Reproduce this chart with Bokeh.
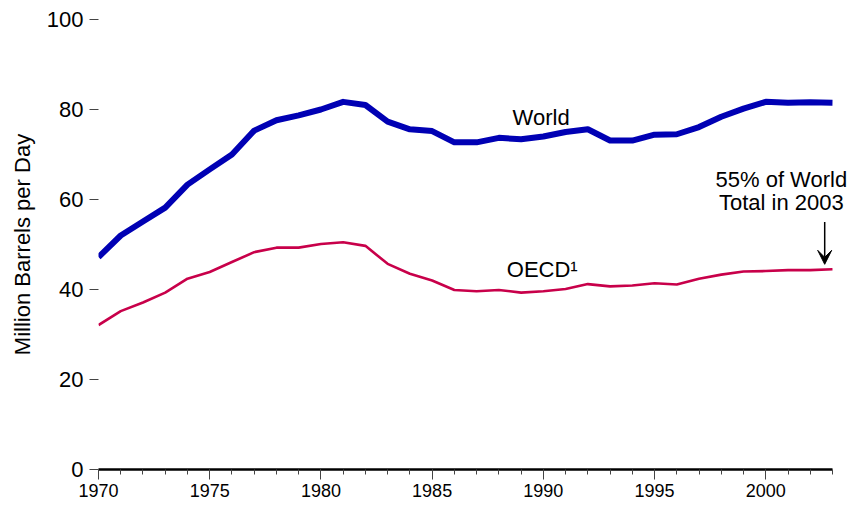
from bokeh.plotting import figure
from bokeh.models import Range1d, FixedTicker, Label, Arrow, VeeHead
from bokeh.embed import file_html
from bokeh.resources import INLINE

years = list(range(1970, 2004))
world = [47.2, 52.0, 55.1, 58.2, 63.3, 66.7, 70.0, 75.3, 77.6, 78.7,
         80.0, 81.7, 81.0, 77.3, 75.6, 75.2, 72.7, 72.7, 73.7, 73.4,
         74.0, 75.0, 75.6, 73.1, 73.1, 74.4, 74.5, 76.1, 78.4, 80.2,
         81.7, 81.5, 81.6, 81.5]
oecd = [32.1, 35.2, 37.1, 39.3, 42.4, 43.9, 46.1, 48.3, 49.3, 49.3,
        50.1, 50.5, 49.7, 45.7, 43.5, 42.0, 39.9, 39.6, 39.9, 39.3,
        39.6, 40.1, 41.2, 40.7, 40.9, 41.4, 41.1, 42.4, 43.3, 44.0,
        44.1, 44.3, 44.3, 44.5]
x_major = [1970, 1975, 1980, 1985, 1990, 1995, 2000]
y_major = [0, 20, 40, 60, 80, 100]
y_label = "Million Barrels per Day"
world_label = "World"
oecd_label = "OECD\u00b9"
note_lines = ["55% of World", "Total in 2003"]

FONT = "Liberation Sans"

p = figure(width=848, height=504, output_backend="svg", toolbar_location=None,
           x_range=Range1d(1970, 2003.72), y_range=Range1d(0, 100),
           min_border_left=98, min_border_right=0, min_border_top=19,
           min_border_bottom=35)
p.outline_line_color = None
p.grid.grid_line_color = None
p.background_fill_color = "white"

p.line(years, world, line_color="#0000B4", line_width=6, line_join="round")
p.line(years, oecd, line_color="#C8004A", line_width=2.6, line_join="round")

xa = p.xaxis[0]
xa.ticker = FixedTicker(ticks=x_major, minor_ticks=years)
xa.bounds = (years[0], years[-1])
xa.axis_line_width = 2.5
xa.axis_line_color = "black"
xa.major_tick_out = 10
xa.major_tick_in = 0
xa.minor_tick_out = 5
xa.minor_tick_in = 0
xa.major_tick_line_color = "#444444"
xa.minor_tick_line_color = "#444444"
xa.major_label_text_font = FONT
xa.major_label_text_font_size = "18px"
xa.major_label_text_color = "black"
xa.major_label_standoff = 4

ya = p.yaxis[0]
ya.ticker = FixedTicker(ticks=y_major, minor_ticks=[])
ya.axis_line_color = None
ya.major_tick_out = 9
ya.major_tick_in = 0
ya.major_tick_line_color = "#444444"
ya.major_label_text_font = FONT
ya.major_label_text_font_size = "22px"
ya.major_label_text_color = "black"
ya.major_label_standoff = 6
ya.axis_label = y_label
ya.axis_label_text_font = FONT
ya.axis_label_text_font_size = "22px"
ya.axis_label_text_font_style = "normal"
ya.axis_label_text_color = "black"
ya.axis_label_standoff = 9

def add_label(x, y, text):
    p.add_layout(Label(x=x, y=y, text=text, text_font=FONT, text_font_size="22px",
                       text_color="black", text_align="center",
                       text_baseline="middle"))

add_label(1989.9, 78.2, world_label)
add_label(1989.95, 44.4, oecd_label)
add_label(2000.7, 64.5, note_lines[0])
add_label(2000.7, 59.4, note_lines[1])

p.add_layout(Arrow(x_start=2002.65, y_start=55.0, x_end=2002.65, y_end=45.6,
                   line_color="black", line_width=1.5,
                   end=VeeHead(size=14, fill_color="black", line_color="black")))

open("out.html", "w").write(file_html(p, INLINE))
